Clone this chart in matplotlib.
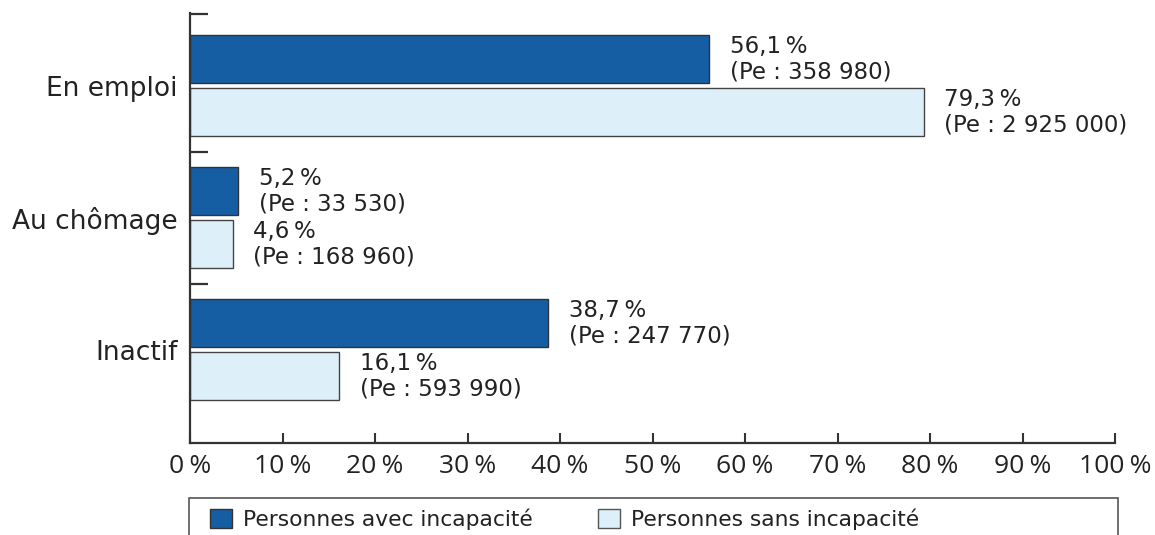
import matplotlib
matplotlib.use('Agg')
import matplotlib.pyplot as plt
from matplotlib.patches import Rectangle, Patch
import numpy as np

# ===================================================
# DONNÉES
# ===================================================
categories = ['En emploi', 'Au chômage', 'Inactif']
avec_incapacite = [56.1, 5.2, 38.7]
sans_incapacite = [79.3, 4.6, 16.1]
pe_avec = ['358 980', '33 530', '247 770']
pe_sans = ['2 925 000', '168 960', '593 990']
x_ticks = list(range(0, 101, 10))
legend_labels = ['Personnes avec incapacité', 'Personnes sans incapacité']

# ===================================================
# STYLE
# ===================================================
bleu_fonce = '#155ea4'
bleu_clair = '#ddf0fa'
contour = '#333333'
texte = '#222222'
plt.rcParams['font.family'] = ['DejaVu Sans']

fig = plt.figure(figsize=(11.55, 5.35), dpi=100)
ax = fig.add_axes([190 / 1155, 1 - 443 / 535, 925 / 1155, 430 / 535])

y = np.arange(len(categories))
h = 0.364
off = 0.2
ax.barh(y - off, avec_incapacite, height=h, color=bleu_fonce, edgecolor=contour, linewidth=1)
ax.barh(y + off, sans_incapacite, height=h, color=bleu_clair, edgecolor='#444444', linewidth=1)

# étiquettes des barres
for i in range(len(categories)):
    ax.annotate(f'{avec_incapacite[i]:.1f}'.replace('.', ',') + '\u202f%\n(Pe : ' + pe_avec[i] + ')',
                xy=(avec_incapacite[i], y[i] - off), xytext=(15, 0), textcoords='offset points',
                ha='left', va='center', fontsize=16.5, color=texte, linespacing=1.12)
    ax.annotate(f'{sans_incapacite[i]:.1f}'.replace('.', ',') + '\u202f%\n(Pe : ' + pe_sans[i] + ')',
                xy=(sans_incapacite[i], y[i] + off), xytext=(15, 0), textcoords='offset points',
                ha='left', va='center', fontsize=16.5, color=texte, linespacing=1.12)

# axes
ax.set_xlim(0, 100)
ax.set_ylim(2.708, -0.55)
ax.spines['top'].set_visible(False)
ax.spines['right'].set_visible(False)
ax.spines['left'].set_linewidth(1.6)
ax.spines['bottom'].set_linewidth(1.6)
ax.spines['left'].set_color(contour)
ax.spines['bottom'].set_color(contour)

ax.set_xticks(x_ticks)
ax.set_xticklabels([f'{t}\u202f%' for t in x_ticks], family=['Open Sans', 'DejaVu Sans'],
                   fontsize=19, color=texte)
ax.tick_params(axis='x', direction='in', length=7, width=1.5, color=contour, pad=8)

ax.set_yticks([-0.545, 0.5, 1.5])
ax.set_yticklabels([])
ax.tick_params(axis='y', which='major', direction='in', length=13, width=1.6, color=contour)
ax.set_yticks(y, categories, minor=True)
ax.tick_params(axis='y', which='minor', length=0, pad=9, labelsize=19, labelcolor=texte)

# légende
cadre = Rectangle((189 / 1155, -0.05), 929 / 1155, (535 - 498) / 535 + 0.05,
                  transform=fig.transFigure, fill=False, edgecolor='#555555', linewidth=1.2)
fig.patches.append(cadre)
handles = [Patch(facecolor=bleu_fonce, edgecolor=contour), Patch(facecolor=bleu_clair, edgecolor='#555555')]
fig.legend(handles, legend_labels, loc='center left', bbox_to_anchor=(210 / 1155, (535 - 519) / 535),
           ncol=2, frameon=False, fontsize=15.7, borderpad=0, borderaxespad=0,
           handlelength=1.0, handleheight=1.0, handletextpad=0.5, columnspacing=3,
           labelcolor=texte)

plt.savefig('out.png', dpi=100)
